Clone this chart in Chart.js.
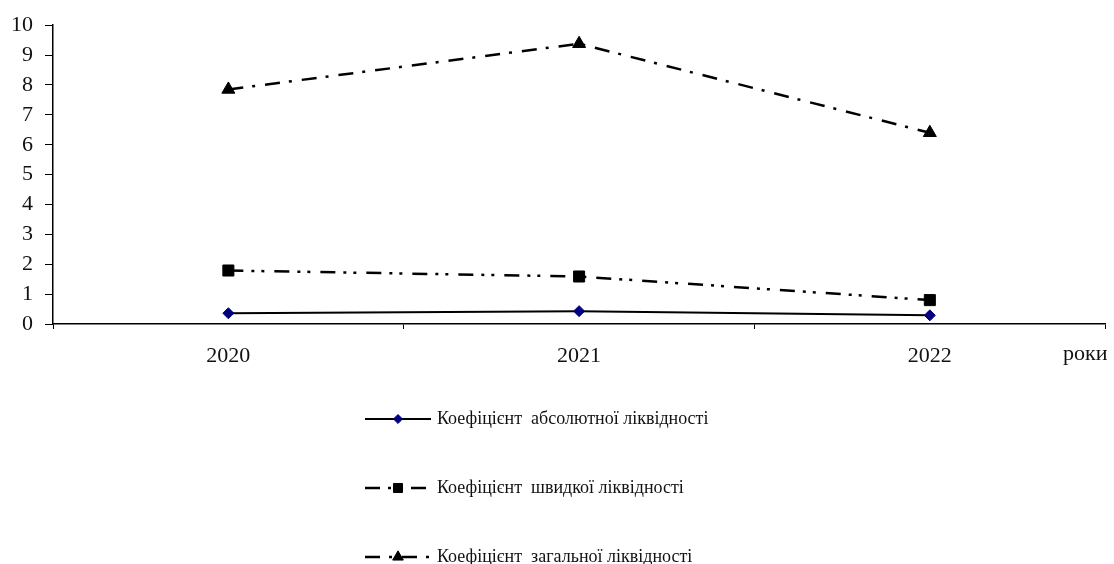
<!DOCTYPE html>
<html lang="uk">
<head>
<meta charset="utf-8">
<title>Коефіцієнти ліквідності</title>
<script src="https://cdn.jsdelivr.net/npm/chart.js@4.4.1/dist/chart.umd.min.js"></script>
<style>
  html, body { margin: 0; padding: 0; background: #fff; }
  #wrap { width: 1114px; height: 564px; position: relative; }
</style>
</head>
<body>
<div id="wrap"><canvas id="chart" width="1114" height="564"></canvas></div>
<script>
// Роки
const years = ['2020', '2021', '2022'];

// Значення коефіцієнтів
const absoluteLiquidity = [0.36, 0.43, 0.29];
const quickLiquidity = [1.79, 1.59, 0.80];
const currentLiquidity = [7.85, 9.38, 6.40];

// Назви рядів
const seriesNames = [
  'Коефіцієнт  абсолютної ліквідності',
  'Коефіцієнт  швидкої ліквідності',
  'Коефіцієнт  загальної ліквідності'
];

// Поділки осі Y
const yTicks = [0, 1, 2, 3, 4, 5, 6, 7, 8, 9, 10];

const axisTitleX = 'роки';

const serif = '"Liberation Serif", "Times New Roman", serif';

// Легенда у стовпчик під графіком та підпис осі X
const sideNotes = {
  id: 'sideNotes',
  afterDraw(chart) {
    const ctx = chart.ctx;
    const xs = chart.scales.x;
    ctx.save();
    // підпис осі X праворуч у рядку з роками
    ctx.font = '22px ' + serif;
    ctx.fillStyle = '#111';
    ctx.textAlign = 'left';
    ctx.textBaseline = 'top';
    ctx.fillText(axisTitleX, 1063, xs.top + 19);

    // легенда
    const rowsY = [419, 488, 557];
    const x0 = 365, x1 = 431;
    chart.data.datasets.forEach((ds, i) => {
      const y = rowsY[i];
      ctx.save();
      ctx.strokeStyle = ds.borderColor;
      ctx.lineWidth = ds.borderWidth;
      ctx.setLineDash(ds.borderDash || []);
      ctx.beginPath();
      ctx.moveTo(x0, y);
      ctx.lineTo(x1, y);
      ctx.stroke();
      ctx.restore();
      ctx.save();
      ctx.fillStyle = ds.pointBackgroundColor;
      ctx.strokeStyle = ds.pointBorderColor;
      ctx.lineWidth = 1;
      Chart.helpers.drawPoint(ctx, {
        pointStyle: ds.pointStyle,
        radius: ds.pointRadius * 0.82,
        rotation: 0,
        borderWidth: 1
      }, (x0 + x1) / 2, y);
      ctx.restore();
      ctx.font = '18px ' + serif;
      ctx.fillStyle = '#111';
      ctx.textAlign = 'left';
      ctx.textBaseline = 'middle';
      ctx.fillText(ds.label, 437, y);
    });
    ctx.restore();
  }
};

new Chart(document.getElementById('chart'), {
  type: 'line',
  data: {
    labels: years,
    datasets: [
      {
        label: seriesNames[0],
        data: absoluteLiquidity,
        borderColor: '#000',
        borderWidth: 2,
        pointStyle: 'rectRot',
        pointRadius: 5.5,
        pointBackgroundColor: '#000080',
        pointBorderColor: '#000080',
        pointBorderWidth: 1,
        tension: 0
      },
      {
        label: seriesNames[1],
        data: quickLiquidity,
        borderColor: '#000',
        borderWidth: 2.5,
        borderDash: [15, 8, 3, 7, 3, 10],
        pointStyle: 'rect',
        pointRadius: 7.8,
        pointBackgroundColor: '#000',
        pointBorderColor: '#000',
        pointBorderWidth: 1,
        tension: 0
      },
      {
        label: seriesNames[2],
        data: currentLiquidity,
        borderColor: '#000',
        borderWidth: 2.5,
        borderDash: [15, 9, 3, 10],
        pointStyle: 'triangle',
        pointRadius: 7.5,
        pointBackgroundColor: '#000',
        pointBorderColor: '#000',
        pointBorderWidth: 1,
        tension: 0
      }
    ]
  },
  options: {
    responsive: false,
    animation: false,
    events: [],
    layout: { padding: { top: 23, right: 6, bottom: 200, left: 0 } },
    plugins: {
      legend: { display: false },
      tooltip: { enabled: false }
    },
    scales: {
      x: {
        type: 'category',
        offset: true,
        grid: {
          offset: true,
          drawOnChartArea: false,
          drawTicks: true,
          tickLength: 5,
          color: '#000',
          lineWidth: 1
        },
        border: { color: '#000', width: 1.5 },
        ticks: {
          color: '#111',
          padding: 14,
          maxRotation: 0,
          font: { family: serif, size: 22 }
        },
        afterFit(scale) {
          scale.height = 40;
          scale.paddingLeft = 0;
          scale.paddingRight = 0;
        }
      },
      y: {
        min: yTicks[0],
        max: yTicks[yTicks.length - 1],
        afterBuildTicks(scale) { scale.ticks = yTicks.map(v => ({ value: v })); },
        grid: {
          drawOnChartArea: false,
          drawTicks: true,
          tickLength: 8,
          color: '#000',
          lineWidth: 1
        },
        border: { color: '#000', width: 1.5 },
        ticks: {
          color: '#111',
          padding: 12,
          font: { family: serif, size: 22 }
        },
        afterFit(scale) { scale.width = 53; }
      }
    }
  },
  plugins: [sideNotes]
});
</script>
</body>
</html>
